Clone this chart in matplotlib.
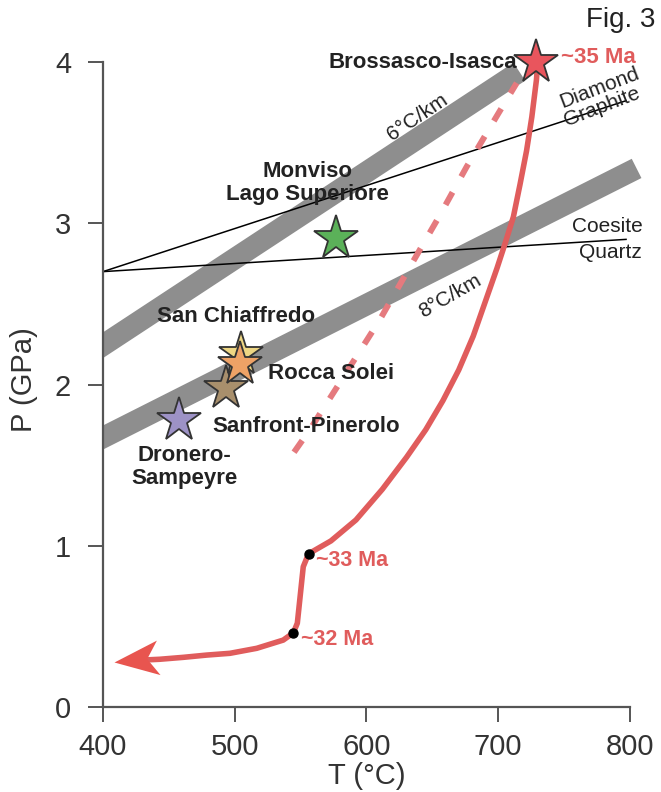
import matplotlib
matplotlib.use("Agg")
import matplotlib.pyplot as plt
from matplotlib.path import Path
from matplotlib.markers import MarkerStyle
from matplotlib.transforms import Affine2D

plt.rcParams['font.family'] = ['Liberation Sans', 'DejaVu Sans']

# geotherm bands (T in C, P in GPa)
geo6_T = [390, 716]
geo6_P = [2.19, 3.94]
geo8_T = [390, 805]
geo8_P = [1.63, 3.34]

# reaction lines
cq_T = [400, 797]
cq_P = [2.70, 2.90]
dg_T = [400, 797]
dg_P = [2.70, 3.76]

# P-T path of Brossasco-Isasca
path_T = [730, 729, 725.5, 721.5, 716.5, 711.5, 705, 699, 690, 681, 670, 658, 645,
          630.5, 612, 592, 573, 556, 552, 547.5, 544.5, 536.8, 516.7, 496.4, 478.7,
          461, 443, 425, 408]
path_P = [4.00, 3.89, 3.66, 3.45, 3.24, 3.04, 2.87, 2.72, 2.51, 2.30, 2.09, 1.90, 1.72,
          1.55, 1.35, 1.16, 1.03, 0.95, 0.87, 0.52, 0.46, 0.415, 0.364, 0.333, 0.322,
          0.308, 0.296, 0.289, 0.281]

# alternative (dashed) path
dash_T = [545, 557, 582, 610, 633, 655, 676, 700, 714]
dash_P = [1.58, 1.72, 2.04, 2.40, 2.73, 3.04, 3.35, 3.68, 3.87]

# age points on the path
age_T = [556, 544.5]
age_P = [0.95, 0.46]
age_lbl = ['~33 Ma', '~32 Ma']

# peak conditions of the units
star_T = [458, 493, 505, 504, 577, 729]
star_P = [1.78, 1.98, 2.19, 2.13, 2.91, 4.00]
star_col = ['#9d92c6', '#a88f6c', '#eed683', '#eea266', '#5bb159', '#e9555d']

red = '#e05c5c'

fig = plt.figure(figsize=(6.61, 7.92), dpi=100)
ax = fig.add_axes([103 / 661, 85 / 792, 420 * 1.3175 / 661, 4.3 * 161.25 / 792])
ax.set_xlim(400, 820)
ax.set_ylim(0, 4.3)

# bands
ax.plot(geo6_T, geo6_P, color='#8e8e8e', lw=15.5, solid_capstyle='butt', zorder=1)
ax.plot(geo8_T, geo8_P, color='#8e8e8e', lw=15.5, solid_capstyle='butt', zorder=1)

ax.plot(cq_T, cq_P, color='black', lw=1.1, zorder=2)
ax.plot(dg_T, dg_P, color='black', lw=1.1, zorder=2)

ax.plot(dash_T, dash_P, color='#e57a7e', lw=4.3, ls=(0, (2.4, 3.0)),
        dash_capstyle='butt', zorder=3)
ax.plot(path_T[:-1], path_P[:-1], color=red, lw=4, solid_joinstyle='round', zorder=3)

# arrow head at the end of the path
head = Path([(0, 0), (1, 0.39), (0.74, 0), (1, -0.39), (0, 0)],
            [Path.MOVETO, Path.LINETO, Path.LINETO, Path.LINETO, Path.CLOSEPOLY])
ax.plot(path_T[-1], path_P[-1], ls='none',
        marker=MarkerStyle(head, transform=Affine2D().rotate_deg(6)),
        ms=64, color='#e8554f', mec='none', zorder=3)

ax.plot(age_T, age_P, 'o', color='black', ms=6.5, zorder=4)
for t, p, s in zip(age_T, age_P, age_lbl):
    ax.text(t + 6, p - 0.04, s, color=red, fontsize=15.5, fontweight='bold',
            ha='left', va='center')

for t, p, c in zip(star_T, star_P, star_col):
    ax.plot(t, p, marker='*', ms=33, color=c, mec='#333333', mew=1.3, zorder=5)

bold = dict(fontsize=16, fontweight='bold', color='#222222')
ax.text(714, 4.0, 'Brossasco-Isasca', ha='right', va='center', **bold)
ax.text(748, 4.03, '~35 Ma', ha='left', va='center', color=red, fontsize=16,
        fontweight='bold')
ax.text(555, 3.25, 'Monviso\nLago Superiore', ha='center', va='center',
        linespacing=1.15, **bold)
ax.text(501, 2.42, 'San Chiaffredo', ha='center', va='center', **bold)
ax.text(525, 2.07, 'Rocca Solei', ha='left', va='center', **bold)
ax.text(482.7, 1.74, 'Sanfront-Pinerolo', ha='left', va='center', **bold)
ax.text(462, 1.49, 'Dronero-\nSampeyre', ha='center', va='center',
        linespacing=1.1, **bold)

thin = dict(fontsize=15, color='#222222', ha='center', va='center',
            rotation_mode='anchor')
ax.text(639, 3.66, '6°C/km', rotation=34, **thin)
ax.text(663.4, 2.55, '8°C/km', rotation=30, **thin)
ax.text(777, 3.84, 'Diamond', rotation=21, **thin)
ax.text(778.7, 3.72, 'Graphite', rotation=21, **thin)
ax.text(782.5, 2.98, 'Coesite', **thin)
ax.text(784.8, 2.82, 'Quartz', **thin)
ax.text(819, 4.26, 'Fig. 3', ha='right', va='center', fontsize=20, color='#222222')

# axes styling
for s in ['top', 'right']:
    ax.spines[s].set_visible(False)
ax.spines['left'].set_bounds(0, 4)
ax.spines['bottom'].set_bounds(400, 800)
for s in ['left', 'bottom']:
    ax.spines[s].set_color('#555555')
    ax.spines[s].set_linewidth(1.6)
ax.set_xticks([400, 500, 600, 700, 800])
ax.set_yticks([0, 1, 2, 3, 4])
ax.tick_params(direction='out', length=11, width=1.4, color='#555555',
               labelsize=21, labelcolor='#333333')
ax.tick_params(axis='y', pad=12)
ax.tick_params(axis='x', pad=8)
ax.set_xlabel('T (°C)', fontsize=21, color='#333333')
ax.set_ylabel('P (GPa)', fontsize=21, color='#333333')
ax.xaxis.set_label_coords((367 - 103) / (420 * 1.3175), -0.079)
ax.yaxis.set_label_coords((38 - 103) / (420 * 1.3175), 0.472)

fig.savefig('out.png', dpi=100)
